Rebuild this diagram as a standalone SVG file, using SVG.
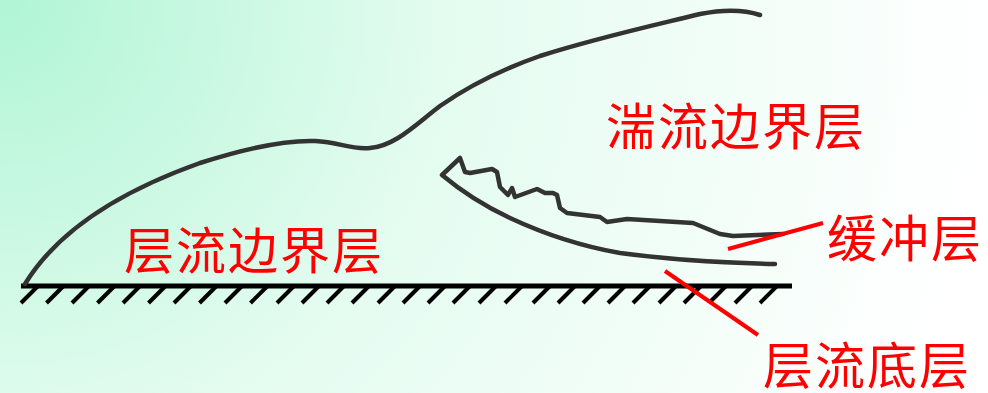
<svg xmlns="http://www.w3.org/2000/svg" width="988" height="393" viewBox="0 0 988 393">
  <defs>
    <radialGradient id="bg" gradientUnits="userSpaceOnUse" cx="0" cy="0" r="1000">
      <stop offset="0" stop-color="#b0f5d5"/>
      <stop offset="0.45" stop-color="#e4fcf0"/>
      <stop offset="1" stop-color="#ffffff"/>
    </radialGradient>
    <style>
      .curve { fill: none; stroke: #333333; stroke-width: 4.5; stroke-linecap: round; stroke-linejoin: round; }
      .wall { stroke: #000000; stroke-width: 5; }
      .hatch { stroke: #000000; stroke-width: 4; }
      .leader { stroke: #ff0000; stroke-width: 4; }
      .label { fill: #ff0000; font-family: "Noto Sans CJK SC", "Noto Sans CJK TC", sans-serif; font-size: 50px; letter-spacing: 2px; }
    </style>
  </defs>

  <rect x="0" y="0" width="988" height="393" fill="url(#bg)"/>

  <!-- wall with hatching -->
  <g id="wall">
    <line class="wall" x1="21" y1="286" x2="792" y2="286"/>
    <g id="hatching">
      <line class="hatch" x1="21" y1="303" x2="38" y2="286"/>
      <line class="hatch" x1="46.5" y1="303" x2="63.5" y2="286"/>
      <line class="hatch" x1="72" y1="303" x2="89" y2="286"/>
      <line class="hatch" x1="97.5" y1="303" x2="114.5" y2="286"/>
      <line class="hatch" x1="123" y1="303" x2="140" y2="286"/>
      <line class="hatch" x1="148.5" y1="303" x2="165.5" y2="286"/>
      <line class="hatch" x1="174" y1="303" x2="191" y2="286"/>
      <line class="hatch" x1="199.5" y1="303" x2="216.5" y2="286"/>
      <line class="hatch" x1="225" y1="303" x2="242" y2="286"/>
      <line class="hatch" x1="250.5" y1="303" x2="267.5" y2="286"/>
      <line class="hatch" x1="277" y1="303" x2="294" y2="286"/>
      <line class="hatch" x1="302" y1="303" x2="319" y2="286"/>
      <line class="hatch" x1="327" y1="303" x2="344" y2="286"/>
      <line class="hatch" x1="352" y1="303" x2="369" y2="286"/>
      <line class="hatch" x1="378" y1="303" x2="395" y2="286"/>
      <line class="hatch" x1="403" y1="303" x2="420" y2="286"/>
      <line class="hatch" x1="428" y1="303" x2="445" y2="286"/>
      <line class="hatch" x1="453" y1="303" x2="470" y2="286"/>
      <line class="hatch" x1="479" y1="303" x2="496" y2="286"/>
      <line class="hatch" x1="505" y1="303" x2="522" y2="286"/>
      <line class="hatch" x1="533" y1="303" x2="550" y2="286"/>
      <line class="hatch" x1="558" y1="303" x2="575" y2="286"/>
      <line class="hatch" x1="583" y1="303" x2="600" y2="286"/>
      <line class="hatch" x1="608" y1="303" x2="625" y2="286"/>
      <line class="hatch" x1="633" y1="303" x2="650" y2="286"/>
      <line class="hatch" x1="659" y1="303" x2="676" y2="286"/>
      <line class="hatch" x1="684" y1="303" x2="701" y2="286"/>
      <line class="hatch" x1="709" y1="303" x2="726" y2="286"/>
      <line class="hatch" x1="735" y1="303" x2="752" y2="286"/>
      <line class="hatch" x1="760" y1="303" x2="777" y2="286"/>
    </g>
  </g>

  <!-- outer edge of the boundary layer -->
  <g id="boundary-layer-edge">
    <path class="curve" d="M 25 284 C 55 235, 110 195, 200 163 C 250 147, 285 140, 315 141 C 340 142, 350 150, 370 148 C 395 146, 415 125, 440 106 C 470 85, 500 70, 540 56 C 600 37, 660 24, 700 14 C 725 9, 745 10, 760 15"/>
  </g>

  <!-- buffer zone between laminar sublayer and turbulent core -->
  <g id="buffer-zone">
    <path class="curve" d="M 775 264 C 730 263, 680 261, 620 253 C 580 246, 540 232, 510 218 C 480 204, 460 190, 442 175 L 460 158 L 465 172 L 470 173 L 492 169 L 497 172 L 500 187 L 508 195 L 512 188 L 515 197 L 537 189 L 545 193 L 553 193 L 557 195 L 560 208 L 567 213 L 600 217 L 607 222 L 627 219 L 693 223 L 720 234 L 733 236 L 783 234"/>
  </g>

  <!-- leader lines -->
  <g id="leaders">
    <line class="leader" x1="728" y1="249" x2="823" y2="223"/>
    <line class="leader" x1="665" y1="271" x2="758" y2="335"/>
  </g>

  <g id="label-turbulent">
    <text class="label" x="606" y="145">湍流边界层</text>
  </g>
  <g id="label-laminar">
    <text class="label" x="124" y="269">层流边界层</text>
  </g>
  <g id="label-buffer">
    <text class="label" x="827" y="257">缓冲层</text>
  </g>
  <g id="label-sublayer">
    <text class="label" x="763" y="384">层流底层</text>
  </g>
</svg>
